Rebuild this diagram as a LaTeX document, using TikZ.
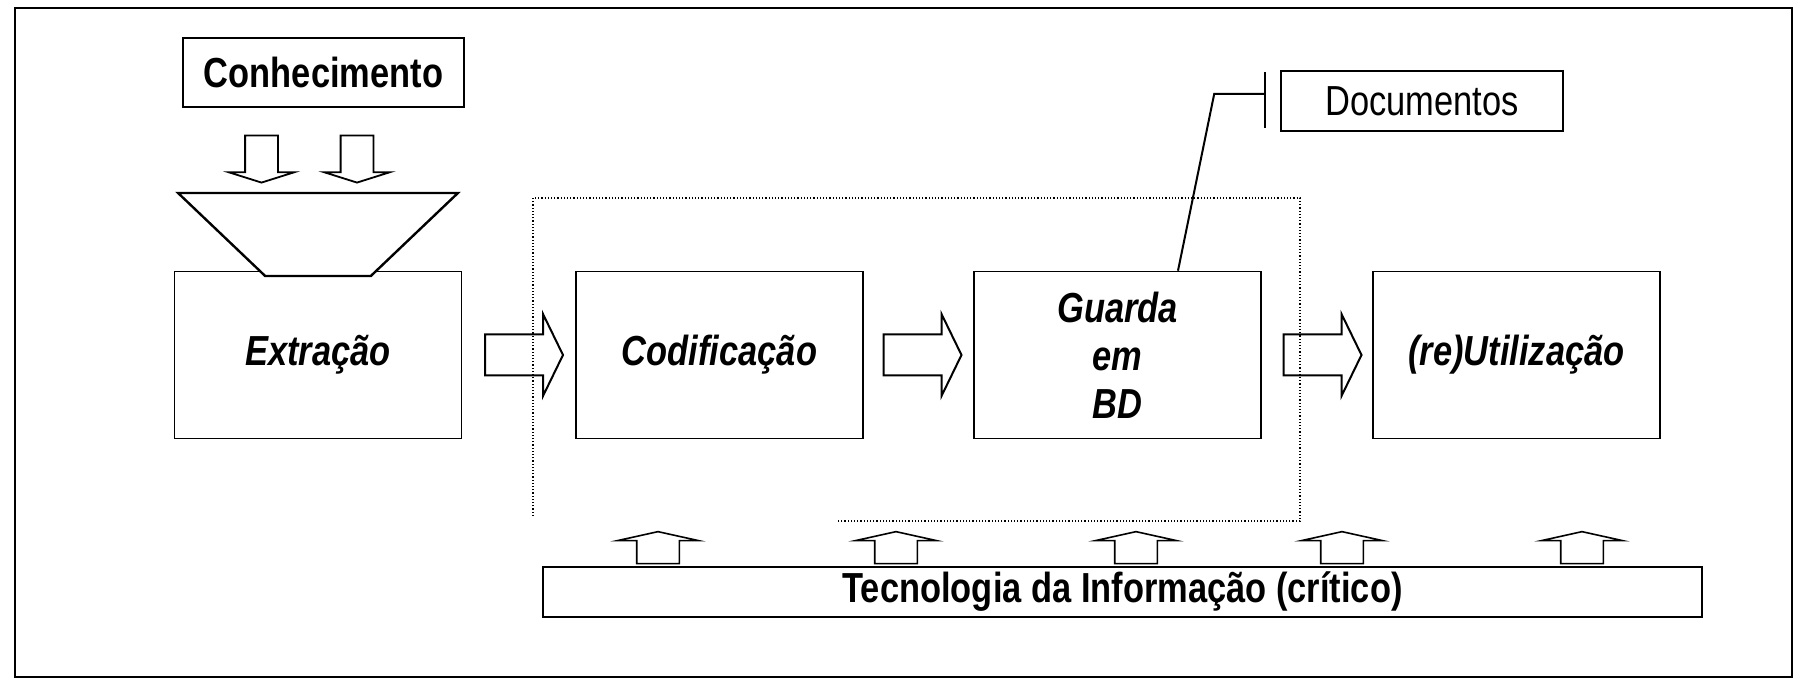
\documentclass[tikz,border=0pt]{standalone}
\usepackage{fontspec}
\setmainfont[FakeStretch=0.82]{Liberation Sans}
\usetikzlibrary{shapes,arrows}
\tikzstyle{stage} = [draw, rectangle, line width=0.8pt, minimum width=143.5pt, minimum height=83.5pt, align=center, font=\fontsize{21}{24}\selectfont\bfseries\itshape]
\tikzstyle{source} = [draw, rectangle, line width=0.8pt, minimum width=140.5pt, minimum height=34.5pt, font=\fontsize{21}{24}\selectfont\bfseries]
\tikzstyle{doc} = [draw, rectangle, line width=0.8pt, minimum width=141pt, minimum height=30pt, font=\fontsize{21}{24}\selectfont]
\tikzstyle{platform} = [draw, rectangle, line width=0.8pt, minimum width=579.5pt, minimum height=25pt, inner sep=0pt, font=\fontsize{21}{24}\selectfont\bfseries]
\tikzstyle{funnel} = [draw, fill=white, trapezium, trapezium stretches=true, line width=1.2pt, minimum width=140pt, minimum height=41.5pt, trapezium left angle=50.5, trapezium right angle=50.5, rotate=180]
\tikzstyle{flow} = [draw, single arrow, line width=1pt, minimum height=39pt, inner sep=0pt, inner ysep=9.75pt, single arrow head extend=10.25pt, single arrow tip angle=128]
\tikzstyle{feed} = [draw, single arrow, line width=0.9pt, minimum height=23.5pt, inner sep=0pt, inner ysep=7.75pt, single arrow head extend=8.25pt, single arrow tip angle=145, rotate=-90]
\tikzstyle{lift} = [draw, single arrow, line width=0.8pt, minimum height=16pt, inner sep=0pt, inner ysep=10.25pt, single arrow head extend=9.5pt, single arrow tip angle=155, rotate=90]

\begin{document}
\begin{tikzpicture}[x=0.5pt,y=-0.5pt]
		\useasboundingbox (0,0) rectangle (1795,684);
		\draw [line width=0.8pt] (15,8) rectangle (1792,677);

		\node [stage] (extr) at (318,355) {Extração};
		\node [stage, right of = extr, node distance=200.75pt] (codif) {Codificação};
		\node [stage, right of = codif, node distance=199pt] (guard) {Guarda\\em\\BD};
		\node [stage, right of = guard, node distance=199.5pt] (reuse) {(re)Utilização};

		\node [funnel] (trap) at ([yshift=60.25pt]extr.center) {};
		\node [source, above of = extr, node distance=141.25pt, xshift=2.75pt] (know) {Conhecimento};
			\node [feed] (k1) at ([xshift=-31pt, yshift=-42pt]know.center) {};
			\node [feed] (k2) at ([xshift=16.75pt, yshift=-42pt]know.center) {};

		\node [flow, right of = extr, node distance=100.5pt] (a1) {};
		\node [flow, right of = codif, node distance=99pt] (a2) {};
		\node [flow, right of = guard, node distance=100pt] (a3) {};

		\node [platform, below of = guard, node distance=118.5pt, xshift=2.5pt] (ti) {Tecnologia da Informação (crítico)};
			\node [lift] (t1) at ([xshift=-232.25pt, yshift=21pt]ti.center) {};
			\node [lift] (t2) at ([xshift=-113.25pt, yshift=21pt]ti.center) {};
			\node [lift] (t3) at ([xshift=6.75pt, yshift=21pt]ti.center) {};
			\node [lift] (t4) at ([xshift=109.75pt, yshift=21pt]ti.center) {};
			\node [lift] (t5) at ([xshift=229.75pt, yshift=21pt]ti.center) {};

		\node [doc, above of = guard, node distance=127pt, xshift=152.25pt] (docs) {Documentos};
		\coordinate (dbar) at ([xshift=-7.5pt, yshift=3.5pt]docs.west);
		\coordinate (knee) at ([xshift=-25.5pt]dbar);
		\draw [line width=1pt] ([xshift=30.25pt]guard.north) -- (knee) -- (dbar);
		\draw [line width=1pt] ([xshift=-7.5pt, yshift=14.5pt]docs.west) -- ([xshift=-7.5pt, yshift=-13.5pt]docs.west);

		\draw [densely dotted, line width=0.6pt] (533,516) -- (533,198) -- (1300,198) -- (1300,521) -- (838,521);
\end{tikzpicture}
\end{document}
